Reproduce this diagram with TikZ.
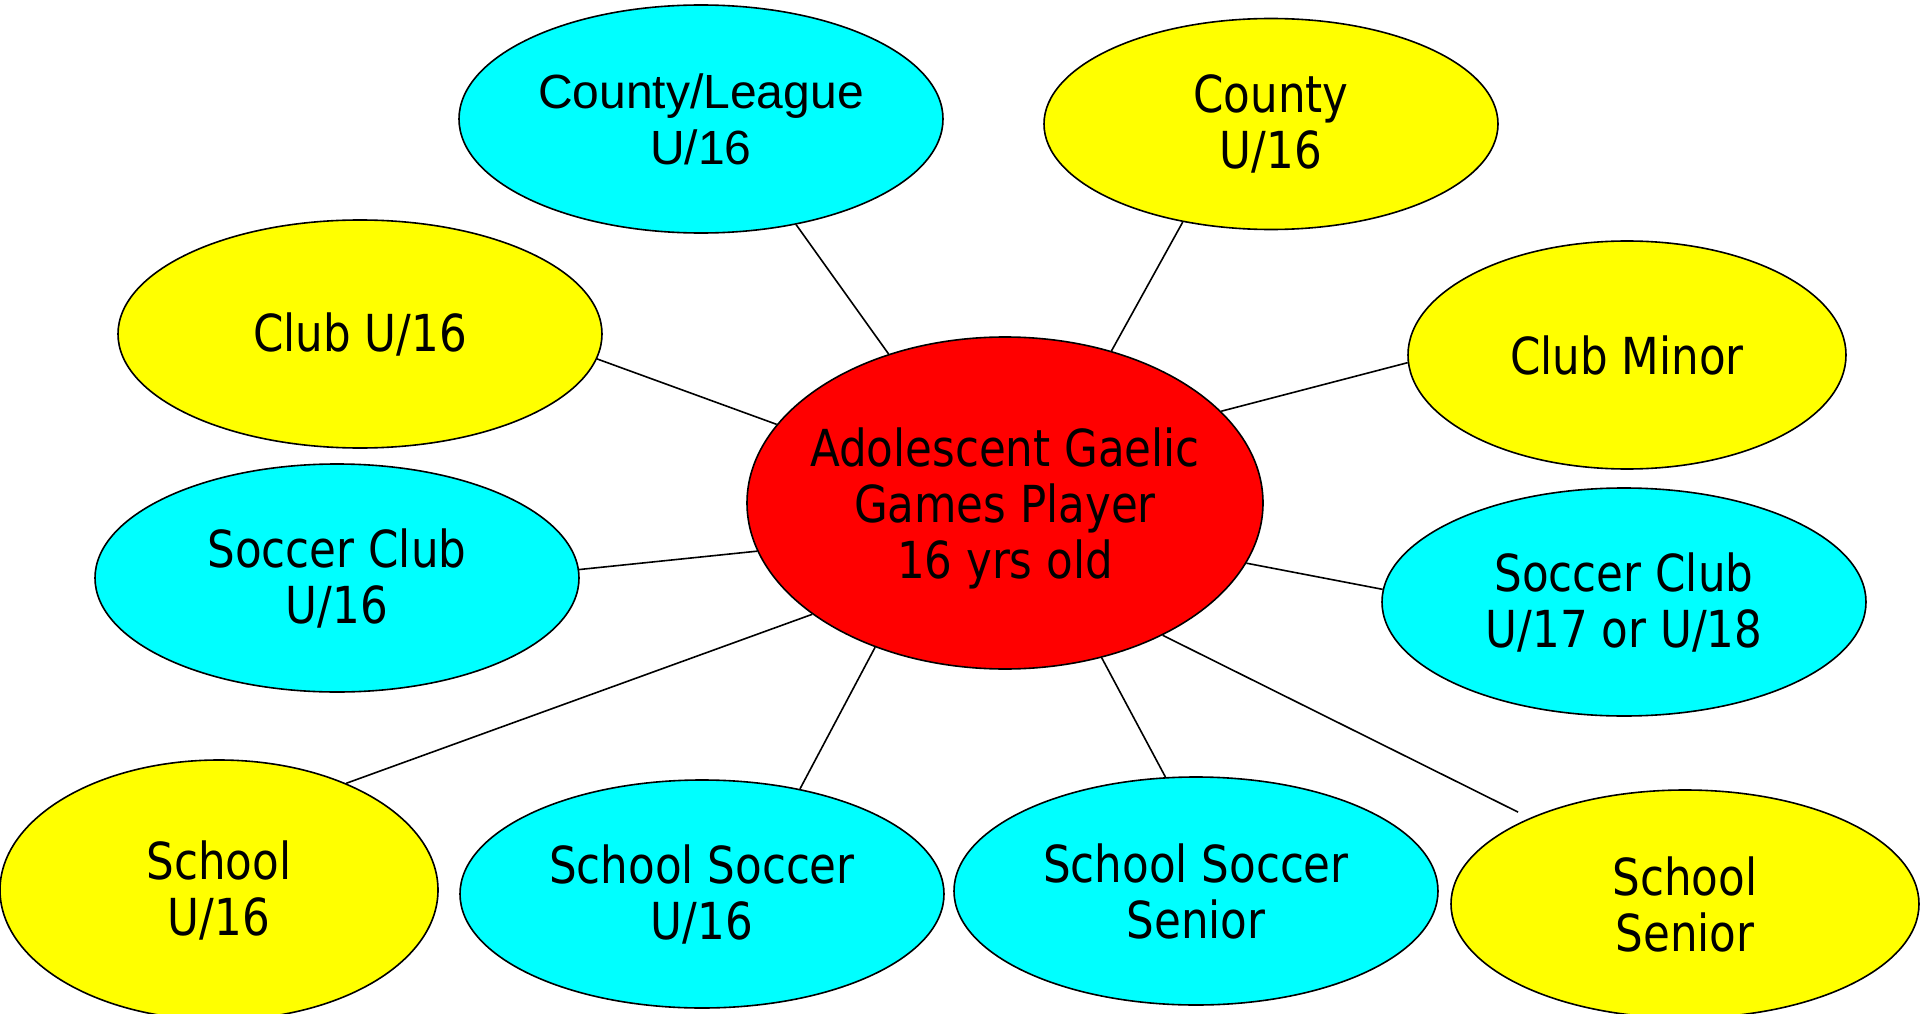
\documentclass[tikz,border=0pt]{standalone}
\usepackage{fontspec}
\setmainfont[FakeStretch=0.95]{DejaVu Sans Condensed}
\newfontfamily\arialfont{Liberation Sans}
\usetikzlibrary{shapes.geometric}

\definecolor{goldfill}{RGB}{255,255,0}
\definecolor{aquafill}{RGB}{0,255,255}
\definecolor{hubfill}{RGB}{255,0,0}

\begin{document}
\begin{tikzpicture}[x=1pt,y=-1pt,
  blob/.style={ellipse,draw,line width=1.6pt,inner sep=0pt,align=center,
    font=\fontsize{51}{56}\selectfont,minimum width=484pt,minimum height=228pt},
  gold/.style={blob,fill=goldfill},
  aqua/.style={blob,fill=aquafill},
  spoke/.style={line width=1.6pt}]
\useasboundingbox (0,0) rectangle (1920,1014);

% player in the middle
\node[blob,fill=hubfill,minimum width=516pt,minimum height=332pt,inner xsep=-16pt,text depth=0pt] (hub) at (1005,503) {Adolescent Gaelic\\Games Player\\16 yrs old};

% teams round about
\node[aqua,font=\arialfont\fontsize{48}{56}\selectfont] (cntyleague) at (701,119) {County/League\\U/16};
\node[gold,minimum width=454pt,minimum height=211pt] (cnty) at (1271,124) {County\\U/16};
\node[gold] (club) at (360,334) {Club U/16};
\node[gold,minimum width=438pt] (clubminor) at (1627,355) {Club Minor};
\node[aqua] (soccer) at (337,578) {Soccer Club\\U/16};
\node[aqua] (soccerolder) at (1624,602) {Soccer Club\\U/17 or U/18};
\node[gold,minimum width=438pt,minimum height=260pt] (school) at (219,890) {School\\U/16};
\node[aqua] (schoolsoccer) at (702,894) {School Soccer\\U/16};
\node[aqua] (schoolsoccersen) at (1196,891) {School Soccer\\Senior};
\node[gold,minimum width=468pt] (schoolsen) at (1685,904) {School\\Senior};

% spokes
\draw[spoke] (hub.128.4) -- (cntyleague.312.4);
\draw[spoke] (hub.55.3) -- (cnty.228.4);
\draw[spoke] (hub.161.4) -- (club.354.8);
\draw[spoke] (hub.23.3) -- (clubminor.182.6);
\draw[spoke] (hub.191.3) -- (soccer.2.1);
\draw[spoke] (hub.346) -- (soccerolder.177.9);
\draw[spoke] (hub.210.6) -- (school.40.4);
\draw[spoke] (hub.228.3) -- (schoolsoccer.47);
\draw[spoke] (hub.302.2) -- (schoolsoccersen.105.1);
\draw[spoke,shorten >=13pt] (hub.320.5) -- (schoolsen.151.7);
\end{tikzpicture}
\end{document}
